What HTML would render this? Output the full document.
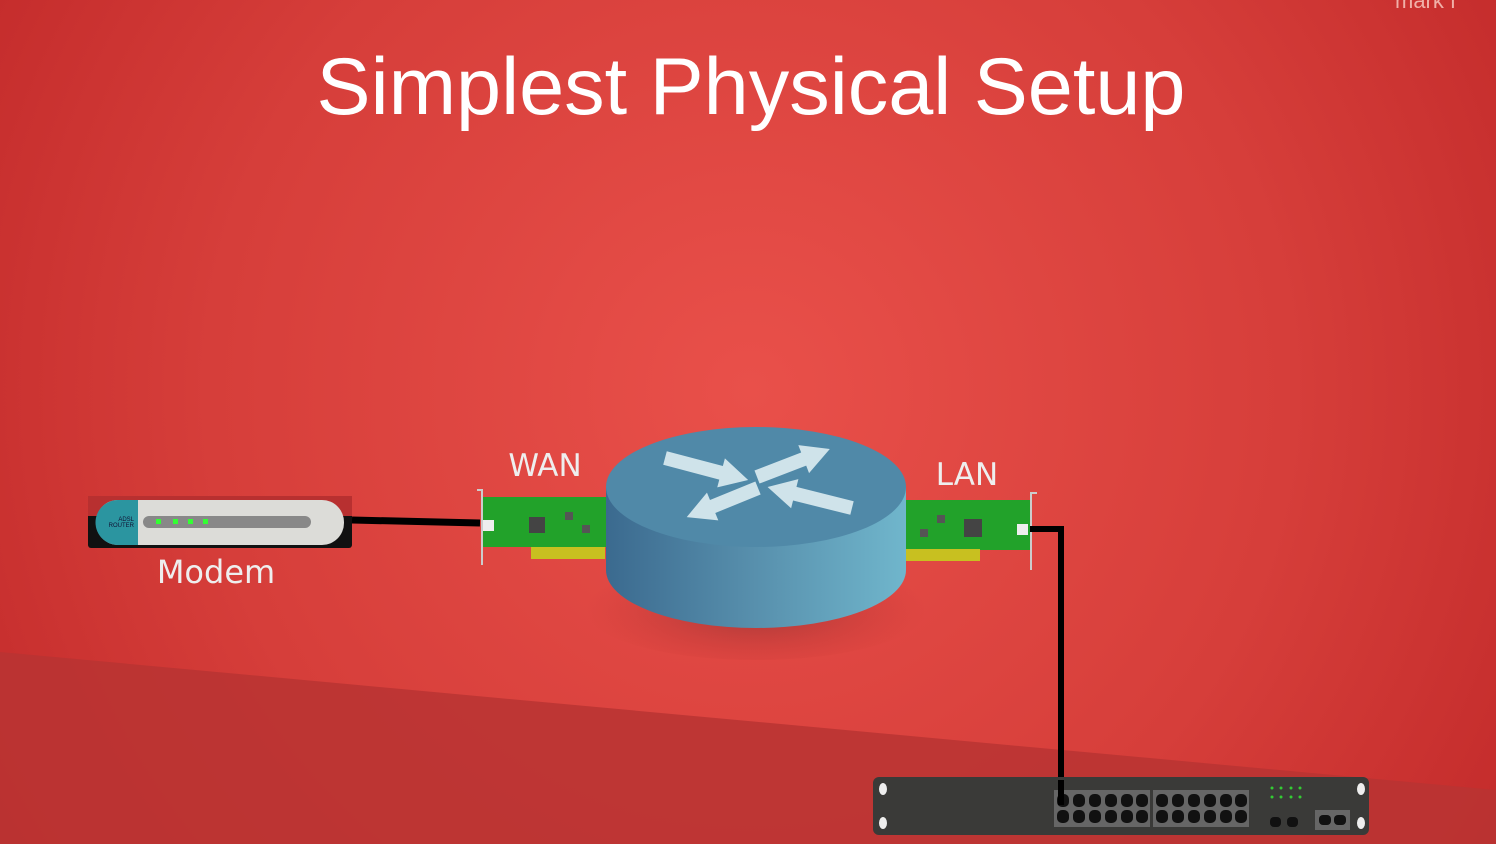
<!DOCTYPE html>
<html><head><meta charset="utf-8"><style>
html,body{margin:0;padding:0;width:1496px;height:844px;overflow:hidden}
</style></head><body>
<svg width="1496" height="844" viewBox="0 0 1496 844" xmlns="http://www.w3.org/2000/svg">
<defs>
<radialGradient id="bg" cx="750" cy="390" r="900" gradientUnits="userSpaceOnUse">
<stop offset="0" stop-color="#e9504a"/><stop offset="0.6" stop-color="#d63e3a"/><stop offset="1" stop-color="#c22a2a"/>
</radialGradient>
<linearGradient id="side" x1="0" x2="1">
<stop offset="0" stop-color="#3b6a8f"/><stop offset="0.5" stop-color="#5890ad"/><stop offset="1" stop-color="#70b6cc"/>
</linearGradient>
<radialGradient id="sh" cx="756" cy="610" r="170" gradientUnits="userSpaceOnUse" gradientTransform="translate(0,610) scale(1,0.35) translate(0,-610)">
<stop offset="0" stop-color="#7a3030" stop-opacity="0.6"/><stop offset="1" stop-color="#c03030" stop-opacity="0"/>
</radialGradient>
</defs>
<rect width="1496" height="844" fill="url(#bg)"/>
<polygon points="0,652 1496,790 1496,844 0,844" fill="#b93432" opacity="0.85"/>
<text x="751" y="114" text-anchor="middle" font-family="Liberation Sans, sans-serif" font-size="81" fill="#fff">Simplest Physical Setup</text>
<text x="1395" y="8" font-family="Liberation Sans, sans-serif" font-size="22" fill="#f0b0a8">mark f</text>

<!-- modem -->
<rect x="88" y="496" width="264" height="52" rx="3" fill="#111"/>
<rect x="88" y="496" width="264" height="20" fill="#b83030"/>
<rect x="96" y="500" width="248" height="45" rx="22" fill="#dcdcd8"/>
<path d="M118,500 H138 V545 H118 A22,22 0 0 1 118,500 Z" fill="#2b95a0"/>
<text x="134" y="521" text-anchor="end" font-family="Liberation Sans, sans-serif" font-size="6" fill="#113">ADSL</text>
<text x="134" y="527" text-anchor="end" font-family="Liberation Sans, sans-serif" font-size="6" fill="#113">ROUTER</text>
<rect x="143" y="516" width="168" height="12" rx="6" fill="#888"/>
<rect x="156" y="519" width="5" height="5" fill="#3f3"/><rect x="173" y="519" width="5" height="5" fill="#3f3"/><rect x="188" y="519" width="5" height="5" fill="#3f3"/><rect x="203" y="519" width="5" height="5" fill="#3f3"/>
<text x="216" y="583" text-anchor="middle" font-family="DejaVu Sans, sans-serif" font-size="32" fill="#eee">Modem</text>
<line x1="352" y1="520" x2="480" y2="523" stroke="#000" stroke-width="7"/>

<!-- WAN card -->
<rect x="481" y="497" width="126" height="50" fill="#22a22a"/>
<rect x="531" y="547" width="74" height="12" fill="#c8c020"/>
<path d="M477,490 H482 V565" stroke="#ccc" stroke-width="2" fill="none"/>
<rect x="483" y="520" width="11" height="11" fill="#eee"/>
<rect x="529" y="517" width="16" height="16" fill="#444"/>
<rect x="565" y="512" width="8" height="8" fill="#555"/><rect x="582" y="525" width="8" height="8" fill="#555"/>
<text x="545" y="476" text-anchor="middle" font-family="DejaVu Sans, sans-serif" font-size="31" fill="#eee">WAN</text>

<!-- LAN card -->
<rect x="905" y="500" width="125" height="50" fill="#22a22a"/>
<rect x="906" y="549" width="74" height="12" fill="#c8c020"/>
<path d="M1037,493 H1031 V570" stroke="#ccc" stroke-width="2" fill="none"/>
<rect x="1017" y="524" width="11" height="11" fill="#eee"/>
<rect x="964" y="519" width="18" height="18" fill="#444"/>
<rect x="937" y="515" width="8" height="8" fill="#555"/><rect x="920" y="529" width="8" height="8" fill="#555"/>
<text x="967" y="485" text-anchor="middle" font-family="DejaVu Sans, sans-serif" font-size="31" fill="#eee">LAN</text>
<path d="M1030,529 H1061 V800" stroke="#000" stroke-width="6" fill="none"/>

<!-- router -->
<ellipse cx="756" cy="610" rx="170" ry="50" fill="url(#sh)"/>
<path d="M606,487 V570 A150,58 0 0 0 906,570 V487 Z" fill="url(#side)"/>
<ellipse cx="756" cy="487" rx="150" ry="60" fill="#5089a8"/>
<g fill="#cfe3ea">
<polygon transform="translate(665,458) rotate(14.8)" points="0,-7 58,-7 58,-15 86,0 58,15 58,7 0,7"/>
<polygon transform="translate(757,477) rotate(-21)" points="0,-7 50,-7 50,-15 78,0 50,15 50,7 0,7"/>
<polygon transform="translate(758,488) rotate(157.8)" points="0,-7 49,-7 49,-15 77,0 49,15 49,7 0,7"/>
<polygon transform="translate(852,508) rotate(194)" points="0,-7 59,-7 59,-15 87,0 59,15 59,7 0,7"/>
</g>

<!-- switch -->
<rect x="873" y="777" width="496" height="58" rx="6" fill="#3a3a38"/>
<ellipse cx="883" cy="789" rx="4" ry="6" fill="#eee"/><ellipse cx="883" cy="823" rx="4" ry="6" fill="#eee"/>
<ellipse cx="1361" cy="789" rx="4" ry="6" fill="#eee"/><ellipse cx="1361" cy="823" rx="4" ry="6" fill="#eee"/>
<rect x="1054" y="790" width="96" height="37" fill="#666"/><rect x="1153" y="790" width="96" height="37" fill="#666"/>
<g fill="#111">
<rect x="1057" y="794" width="12" height="13" rx="5"/><rect x="1073" y="794" width="12" height="13" rx="5"/><rect x="1089" y="794" width="12" height="13" rx="5"/><rect x="1105" y="794" width="12" height="13" rx="5"/><rect x="1121" y="794" width="12" height="13" rx="5"/><rect x="1136" y="794" width="12" height="13" rx="5"/>
<rect x="1057" y="810" width="12" height="13" rx="5"/><rect x="1073" y="810" width="12" height="13" rx="5"/><rect x="1089" y="810" width="12" height="13" rx="5"/><rect x="1105" y="810" width="12" height="13" rx="5"/><rect x="1121" y="810" width="12" height="13" rx="5"/><rect x="1136" y="810" width="12" height="13" rx="5"/>
<rect x="1156" y="794" width="12" height="13" rx="5"/><rect x="1172" y="794" width="12" height="13" rx="5"/><rect x="1188" y="794" width="12" height="13" rx="5"/><rect x="1204" y="794" width="12" height="13" rx="5"/><rect x="1220" y="794" width="12" height="13" rx="5"/><rect x="1235" y="794" width="12" height="13" rx="5"/>
<rect x="1156" y="810" width="12" height="13" rx="5"/><rect x="1172" y="810" width="12" height="13" rx="5"/><rect x="1188" y="810" width="12" height="13" rx="5"/><rect x="1204" y="810" width="12" height="13" rx="5"/><rect x="1220" y="810" width="12" height="13" rx="5"/><rect x="1235" y="810" width="12" height="13" rx="5"/>
<rect x="1270" y="817" width="11" height="10" rx="4"/><rect x="1287" y="817" width="11" height="10" rx="4"/>
</g>
<rect x="1315" y="810" width="35" height="20" fill="#666"/>
<rect x="1319" y="815" width="12" height="10" rx="4" fill="#111"/><rect x="1334" y="815" width="12" height="10" rx="4" fill="#111"/>
<g fill="#3c3">
<circle cx="1272" cy="788" r="1.5"/><circle cx="1281" cy="788" r="1.5"/><circle cx="1291" cy="788" r="1.5"/><circle cx="1300" cy="788" r="1.5"/>
<circle cx="1272" cy="797" r="1.5"/><circle cx="1281" cy="797" r="1.5"/><circle cx="1291" cy="797" r="1.5"/><circle cx="1300" cy="797" r="1.5"/>
</g>
<rect x="1058" y="780" width="6" height="25" fill="#000"/>
</svg>
</body></html>
